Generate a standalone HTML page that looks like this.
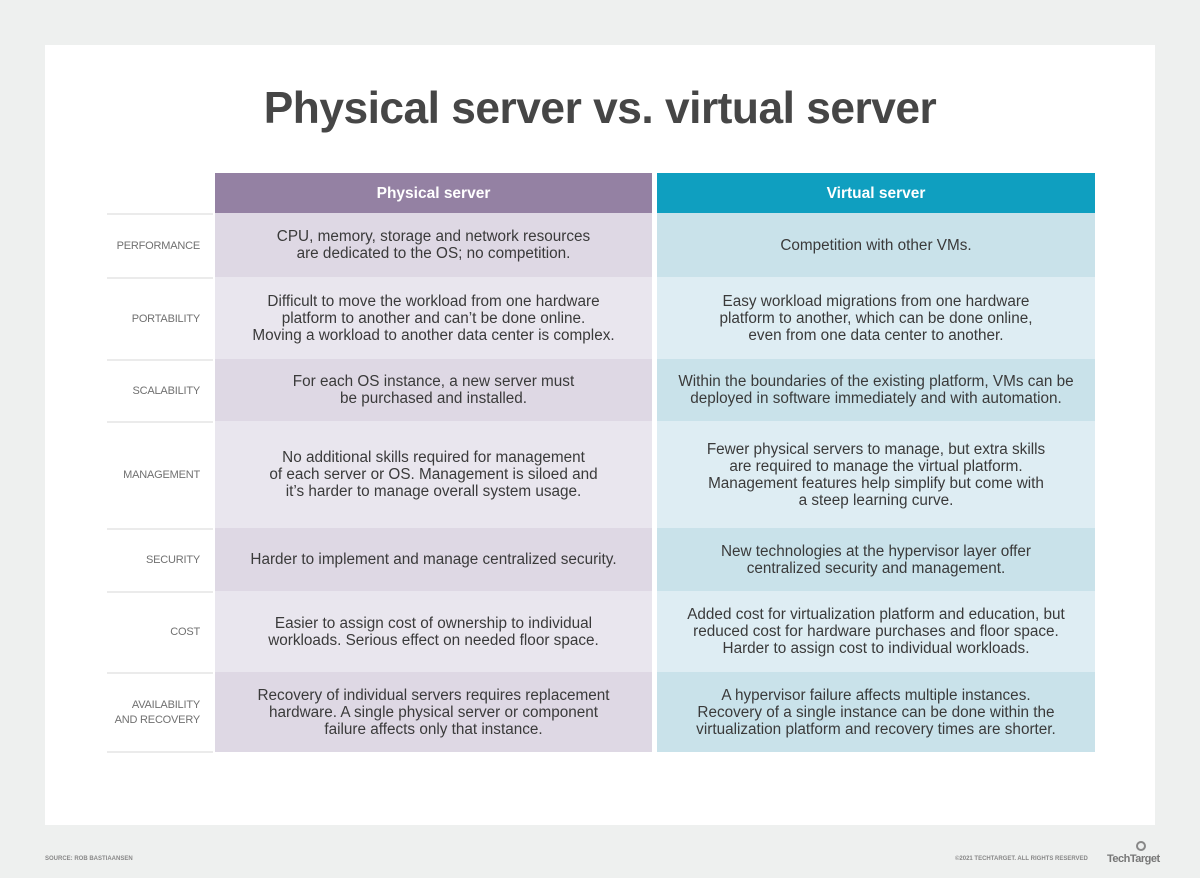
<!DOCTYPE html>
<html><head><meta charset="utf-8"><style>
body{margin:0;width:1200px;height:878px;background:#eef0ef;font-family:"Liberation Sans",sans-serif;position:relative;overflow:hidden}
.card{position:absolute;left:45px;top:45px;width:1110px;height:780px;background:#fff}
h1{position:absolute;left:0;top:84px;width:1200px;text-align:center;margin:0;font-size:44.3px;font-weight:bold;color:#464646;letter-spacing:-0.5px}
.c{position:absolute;display:flex;align-items:center;justify-content:center;text-align:center;font-size:15.3px;line-height:17px;color:#3a3a3a;box-sizing:border-box}
.l{position:absolute;left:107px;width:106px;padding-right:13px;display:flex;align-items:center;justify-content:flex-end;text-align:right;font-size:11px;letter-spacing:-0.2px;white-space:nowrap;line-height:15px;color:#707070;box-sizing:border-box;border-top:2px solid #ebebeb}
.h{color:#fff;font-weight:bold;font-size:15.5px}
.ft{position:absolute;top:856px;font-size:6px;color:#888;font-weight:bold}
</style></head><body>
<div class="card"></div>
<h1>Physical server vs. virtual server</h1>
<div class="c h" style="left:215px;top:173px;width:437px;height:40px;background:#9481a3">Physical server</div>
<div class="c h" style="left:657px;top:173px;width:438px;height:40px;background:#0f9fc0">Virtual server</div>

<div class="l" style="top:213px;height:64px">PERFORMANCE</div>
<div class="c" style="left:215px;top:213px;width:437px;height:64px;background:#ded8e4">CPU, memory, storage and network resources<br>are dedicated to the OS; no competition.</div>
<div class="c" style="left:657px;top:213px;width:438px;height:64px;background:#c9e2ea">Competition with other VMs.</div>

<div class="l" style="top:277px;height:82px">PORTABILITY</div>
<div class="c" style="left:215px;top:277px;width:437px;height:82px;background:#e9e6ee">Difficult to move the workload from one hardware<br>platform to another and can’t be done online.<br>Moving a workload to another data center is complex.</div>
<div class="c" style="left:657px;top:277px;width:438px;height:82px;background:#deedf3">Easy workload migrations from one hardware<br>platform to another, which can be done online,<br>even from one data center to another.</div>

<div class="l" style="top:359px;height:62px">SCALABILITY</div>
<div class="c" style="left:215px;top:359px;width:437px;height:62px;background:#ded8e4">For each OS instance, a new server must<br>be purchased and installed.</div>
<div class="c" style="left:657px;top:359px;width:438px;height:62px;background:#c9e2ea">Within the boundaries of the existing platform, VMs can be<br>deployed in software immediately and with automation.</div>

<div class="l" style="top:421px;height:107px">MANAGEMENT</div>
<div class="c" style="left:215px;top:421px;width:437px;height:107px;background:#e9e6ee">No additional skills required for management<br>of each server or OS. Management is siloed and<br>it’s harder to manage overall system usage.</div>
<div class="c" style="left:657px;top:421px;width:438px;height:107px;background:#deedf3">Fewer physical servers to manage, but extra skills<br>are required to manage the virtual platform.<br>Management features help simplify but come with<br>a steep learning curve.</div>

<div class="l" style="top:528px;height:63px">SECURITY</div>
<div class="c" style="left:215px;top:528px;width:437px;height:63px;background:#ded8e4">Harder to implement and manage centralized security.</div>
<div class="c" style="left:657px;top:528px;width:438px;height:63px;background:#c9e2ea">New technologies at the hypervisor layer offer<br>centralized security and management.</div>

<div class="l" style="top:591px;height:81px">COST</div>
<div class="c" style="left:215px;top:591px;width:437px;height:81px;background:#e9e6ee">Easier to assign cost of ownership to individual<br>workloads. Serious effect on needed floor space.</div>
<div class="c" style="left:657px;top:591px;width:438px;height:81px;background:#deedf3">Added cost for virtualization platform and education, but<br>reduced cost for hardware purchases and floor space.<br>Harder to assign cost to individual workloads.</div>

<div class="l" style="top:672px;height:81px;border-bottom:2px solid #ebebeb">AVAILABILITY<br>AND RECOVERY</div>
<div class="c" style="left:215px;top:672px;width:437px;height:80px;background:#ded8e4">Recovery of individual servers requires replacement<br>hardware. A single physical server or component<br>failure affects only that instance.</div>
<div class="c" style="left:657px;top:672px;width:438px;height:80px;background:#c9e2ea">A hypervisor failure affects multiple instances.<br>Recovery of a single instance can be done within the<br>virtualization platform and recovery times are shorter.</div>

<div class="ft" style="left:45px">SOURCE: ROB BASTIAANSEN</div>
<div class="ft" style="left:955px">©2021 TECHTARGET. ALL RIGHTS RESERVED</div>
<div style="position:absolute;left:1107px;top:853px;font-size:11px;font-weight:bold;color:#777;letter-spacing:-0.5px">TechTarget</div>
<div style="position:absolute;left:1136px;top:841px;width:10px;height:10px;border:2px solid #888;border-radius:50%;box-sizing:border-box"></div>
</body></html>
